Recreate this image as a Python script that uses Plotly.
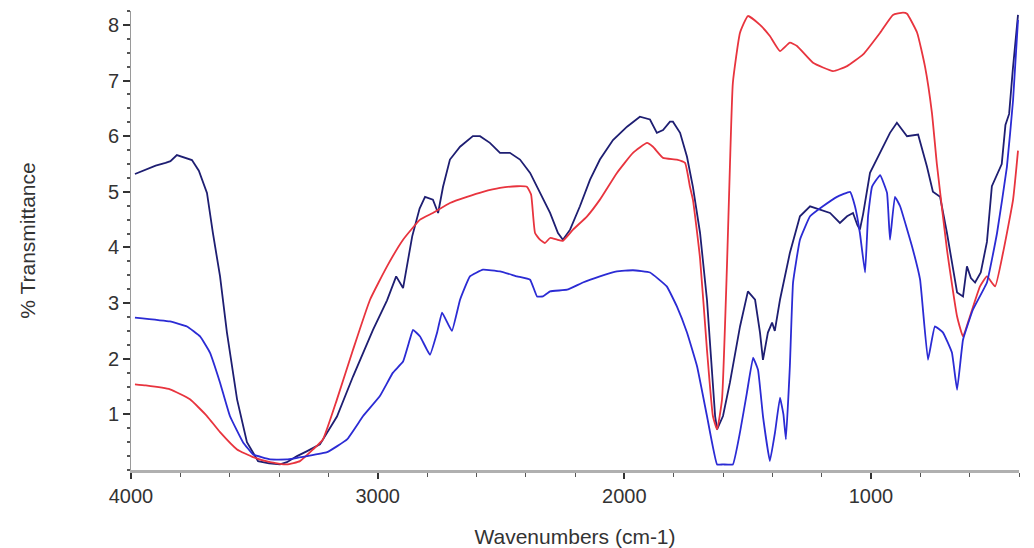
import plotly.graph_objects as go

# Navy (dark blue) spectrum
navy_wn = [3984, 3940, 3900, 3860, 3840, 3814, 3790, 3753, 3725, 3692, 3668, 3639, 3611, 3570, 3530,
           3485, 3440, 3396, 3368, 3327, 3286, 3234, 3165, 3100, 3019, 2962, 2925, 2897, 2860, 2830,
           2808, 2776, 2755, 2735, 2707, 2666, 2614, 2585, 2545, 2504, 2464, 2423, 2382, 2342, 2301,
           2269, 2249, 2220, 2180, 2139, 2099, 2046, 1989, 1937, 1896, 1868, 1843, 1815, 1803, 1774,
           1746, 1722, 1693, 1665, 1645, 1632, 1624, 1600, 1572, 1531, 1499, 1470, 1450, 1438, 1418,
           1401, 1390, 1369, 1329, 1288, 1247, 1207, 1166, 1126, 1097, 1073, 1055, 1045, 1032, 1004,
           963, 923, 895, 854, 809, 773, 749, 720, 692, 651, 627, 611, 595, 578, 555, 530, 510, 490,
           470, 455, 440, 425, 410, 404]
navy_t = [5.32, 5.40, 5.47, 5.52, 5.55, 5.66, 5.62, 5.57, 5.38, 4.98, 4.26, 3.48, 2.47, 1.27, 0.50,
          0.16, 0.12, 0.10, 0.14, 0.25, 0.34, 0.46, 0.96, 1.68, 2.52, 3.05, 3.48, 3.27, 4.20, 4.70,
          4.91, 4.86, 4.62, 5.09, 5.58, 5.81, 6.00, 6.00, 5.88, 5.70, 5.70, 5.58, 5.34, 4.98, 4.62,
          4.26, 4.14, 4.32, 4.74, 5.22, 5.58, 5.93, 6.17, 6.35, 6.30, 6.06, 6.11, 6.26, 6.26, 6.06,
          5.63, 5.09, 4.26, 3.06, 1.86, 0.97, 0.73, 0.97, 1.57, 2.58, 3.21, 3.06, 2.47, 1.98, 2.47,
          2.65, 2.50, 3.06, 3.90, 4.56, 4.74, 4.68, 4.62, 4.44, 4.56, 4.62, 4.40, 4.32, 4.60, 5.34,
          5.70, 6.06, 6.24, 6.00, 6.03, 5.45, 5.00, 4.91, 4.26, 3.19, 3.12, 3.66, 3.45, 3.37, 3.55,
          4.10, 5.10, 5.30, 5.50, 6.20, 6.40, 7.20, 7.90, 8.18]

# Red spectrum
red_wn = [3984, 3940, 3842, 3761, 3692, 3639, 3570, 3505, 3436, 3368, 3315, 3262, 3222, 3165, 3100,
          3031, 2962, 2897, 2828, 2776, 2707, 2638, 2573, 2504, 2435, 2395, 2378, 2362, 2342, 2322,
          2301, 2273, 2249, 2208, 2151, 2099, 2030, 1965, 1908, 1884, 1843, 1787, 1754, 1734, 1722,
          1693, 1665, 1641, 1624, 1604, 1584, 1572, 1560, 1531, 1499, 1450, 1410, 1369, 1329, 1300,
          1235, 1154, 1097, 1032, 963, 911, 870, 854, 813, 781, 753, 733, 692, 651, 627, 599, 558,
          530, 497, 465, 424, 404]
red_t = [1.54, 1.52, 1.45, 1.27, 0.97, 0.68, 0.37, 0.23, 0.14, 0.10, 0.16, 0.37, 0.55, 1.27, 2.16,
         3.06, 3.66, 4.14, 4.50, 4.62, 4.80, 4.91, 5.00, 5.07, 5.10, 5.09, 4.95, 4.26, 4.14, 4.08,
         4.17, 4.14, 4.12, 4.32, 4.56, 4.86, 5.34, 5.70, 5.88, 5.81, 5.61, 5.58, 5.52, 5.09, 4.86,
         3.80, 2.16, 0.97, 0.73, 1.27, 3.66, 5.45, 6.96, 7.86, 8.16, 8.00, 7.80, 7.53, 7.68, 7.62,
         7.32, 7.17, 7.26, 7.47, 7.86, 8.18, 8.22, 8.20, 7.86, 7.25, 6.42, 5.50, 3.96, 2.76, 2.40,
         2.76, 3.30, 3.48, 3.30, 3.90, 4.86, 5.74]

# Blue spectrum
blue_wn = [3984, 3842, 3773, 3720, 3680, 3639, 3599, 3546, 3505, 3436, 3368, 3286, 3205, 3124, 3059,
           2991, 2938, 2897, 2870, 2857, 2828, 2788, 2759, 2739, 2699, 2666, 2626, 2573, 2504, 2435,
           2382, 2354, 2330, 2301, 2232, 2168, 2099, 2030, 1965, 1896, 1828, 1787, 1746, 1705, 1665,
           1624, 1600, 1560, 1531, 1503, 1478, 1458, 1438, 1410, 1389, 1369, 1355, 1345, 1329, 1316,
           1288, 1247, 1195, 1138, 1085, 1065, 1045, 1024, 1012, 996, 963, 935, 923, 903, 882, 830,
           801, 769, 741, 708, 672, 651, 627, 587, 530, 489, 449, 424, 404]
blue_t = [2.74, 2.67, 2.58, 2.40, 2.11, 1.57, 0.97, 0.50, 0.28, 0.19, 0.19, 0.25, 0.32, 0.55, 0.97,
          1.33, 1.75, 1.95, 2.34, 2.52, 2.40, 2.07, 2.47, 2.83, 2.50, 3.06, 3.48, 3.60, 3.57, 3.48,
          3.42, 3.12, 3.12, 3.21, 3.24, 3.37, 3.48, 3.57, 3.59, 3.55, 3.30, 2.94, 2.47, 1.86, 0.97,
          0.10, 0.10, 0.10, 0.68, 1.39, 2.02, 1.80, 0.97, 0.16, 0.68, 1.30, 1.00, 0.55, 1.86, 3.37,
          4.14, 4.56, 4.74, 4.91, 5.00, 4.74, 4.26, 3.55, 4.56, 5.09, 5.30, 4.98, 4.14, 4.91, 4.74,
          3.96, 3.42, 1.98, 2.58, 2.47, 2.11, 1.44, 2.34, 2.88, 3.37, 4.26, 5.45, 6.65, 8.09]

x_ticks = [4000, 3000, 2000, 1000]
y_ticks = [1, 2, 3, 4, 5, 6, 7, 8]

fig = go.Figure()
fig.add_trace(go.Scatter(x=navy_wn, y=navy_t, mode="lines",
                         line=dict(color="#1e1e72", width=1.8), name="navy"))
fig.add_trace(go.Scatter(x=red_wn, y=red_t, mode="lines",
                         line=dict(color="#e8343e", width=1.8, shape="spline", smoothing=0.4), name="red"))
fig.add_trace(go.Scatter(x=blue_wn, y=blue_t, mode="lines",
                         line=dict(color="#2b2bd4", width=1.8, shape="spline", smoothing=0.3), name="blue"))

font_family = "Liberation Sans, Arial, sans-serif"
fig.update_layout(
    width=1026, height=540,
    margin=dict(l=123, r=15, t=3, b=78),
    paper_bgcolor="white", plot_bgcolor="white",
    showlegend=False,
    font=dict(family=font_family, size=20, color="#333333"),
)
fig.update_xaxes(
    range=[4000, 400], tickvals=x_ticks, ticktext=[str(v) for v in x_ticks],
    automargin=False,
    showgrid=False, zeroline=False, showline=True, linecolor="#b0b0b0", linewidth=3,
    ticks="outside", ticklen=6, tickwidth=1.5, tickcolor="#333333",
    minor=dict(dtick=200, ticks="outside", ticklen=4, tickwidth=1.2, tickcolor="#555555", tick0=0),
    tickfont=dict(size=20, color="#333333"),
    title=dict(text="Wavenumbers (cm-1)", font=dict(size=21, color="#333333"), standoff=24),
)
fig.update_yaxes(
    range=[0, 8.25], tickvals=y_ticks, ticktext=[str(v) for v in y_ticks],
    automargin=False,
    showgrid=False, zeroline=False, showline=True, linecolor="#9a9a9a", linewidth=1,
    ticks="outside", ticklen=7, tickwidth=1.5, tickcolor="#333333",
    minor=dict(dtick=0.25, ticks="outside", ticklen=3, tickwidth=1.5, tickcolor="#555555", tick0=0),
    tickfont=dict(size=20, color="#333333"),
    title=dict(text="% Transmittance", font=dict(size=21, color="#333333"), standoff=66),
)

fig.write_html("out.html")
